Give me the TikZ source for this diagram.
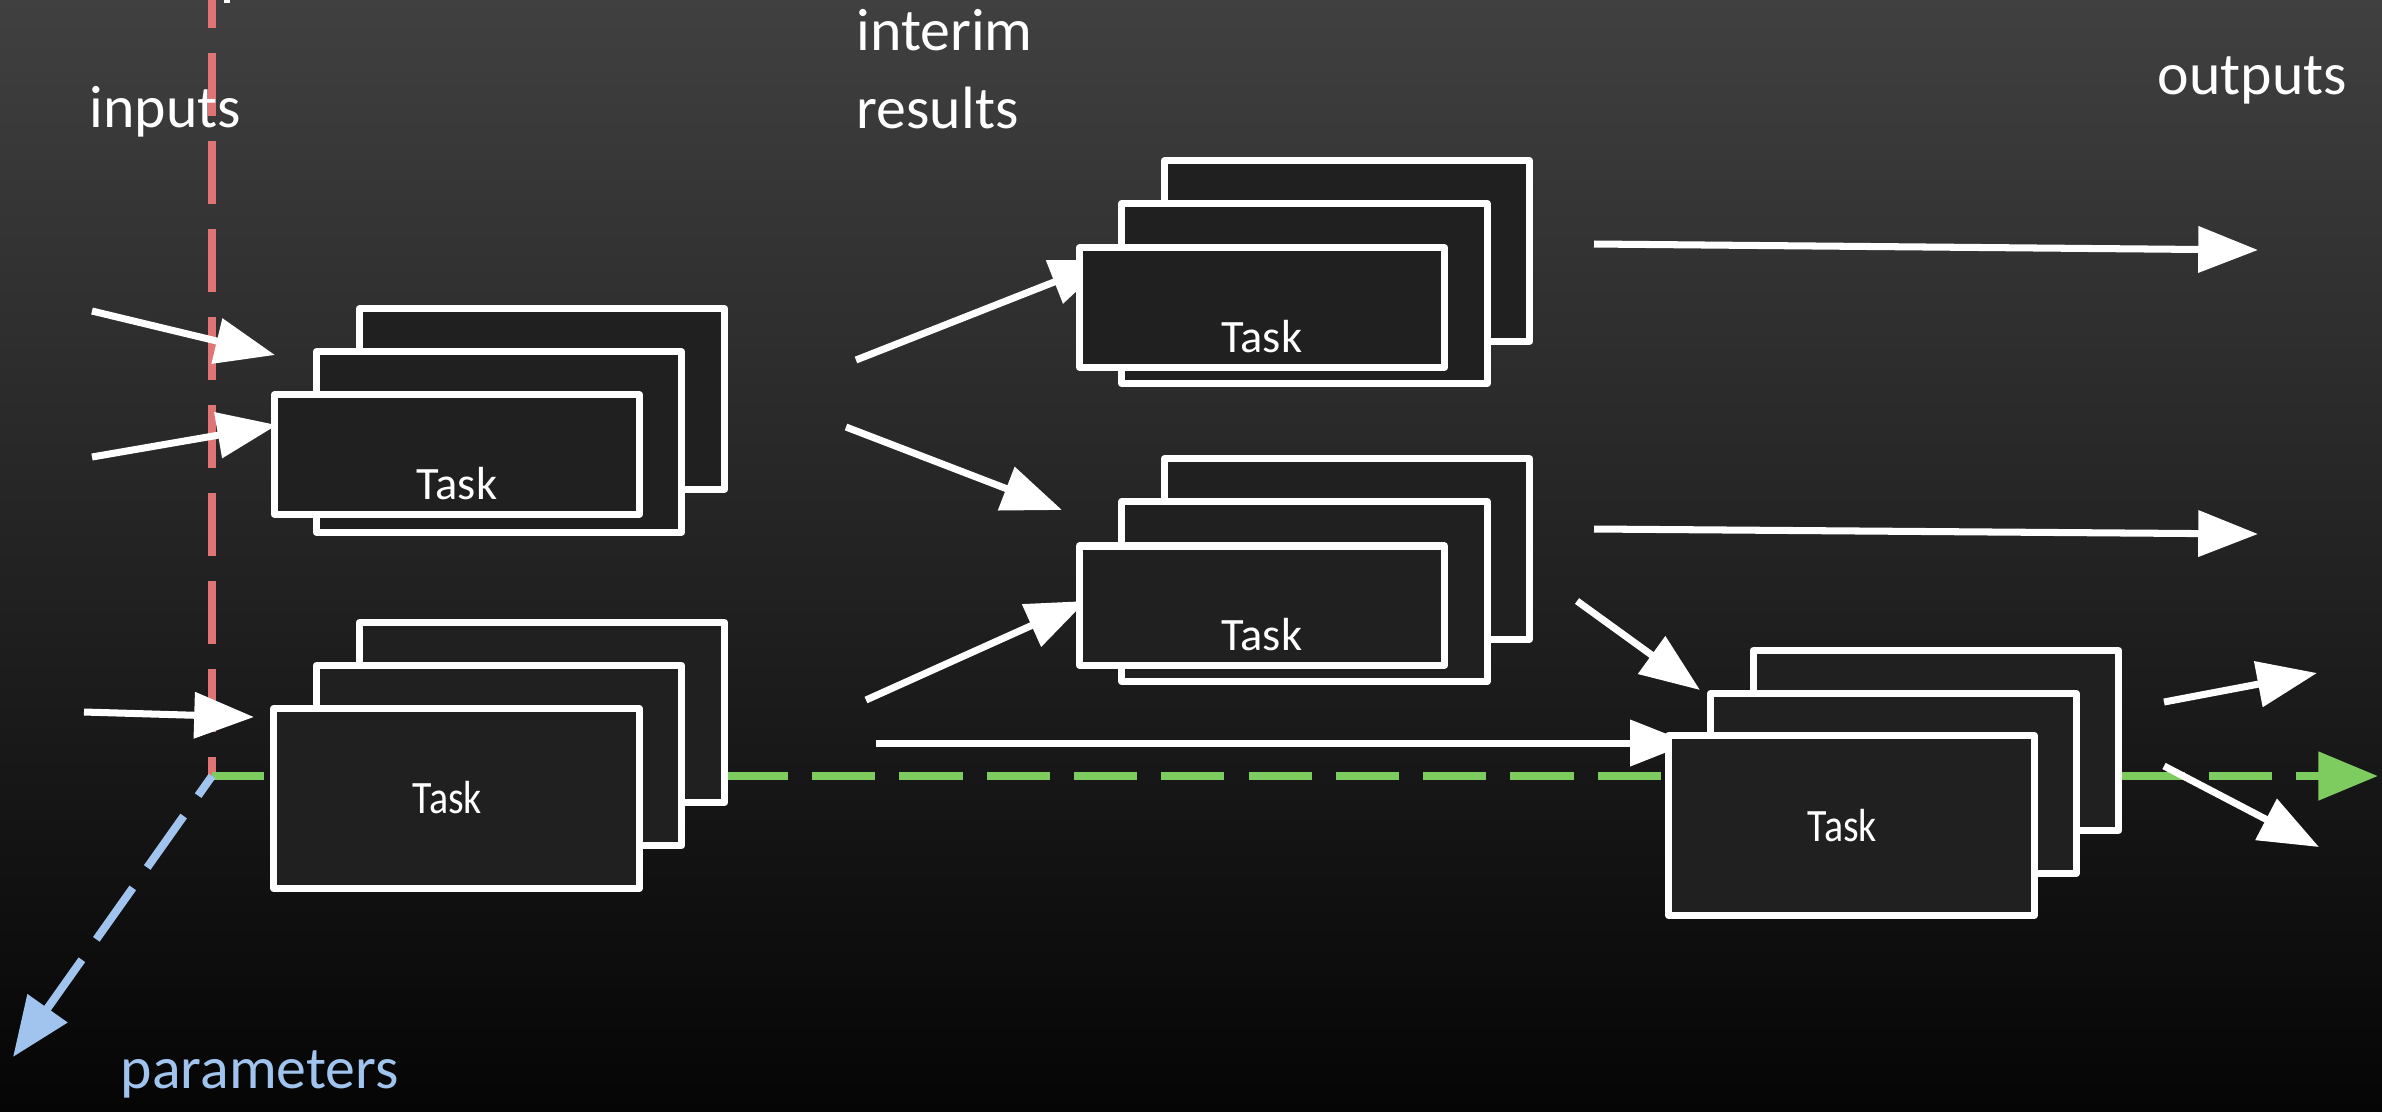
\documentclass[tikz,border=0pt]{standalone}
\usepackage{fontspec}
\setmainfont{Carlito}
\newfontfamily\taskfontc[FakeStretch=0.86]{Carlito}
\usetikzlibrary{arrows.meta,calc}
\definecolor{bgtop}{RGB}{64,64,64}
\definecolor{bgbot}{RGB}{5,5,5}
\definecolor{boxfill}{RGB}{32,32,32}
\definecolor{redline}{RGB}{224,116,116}
\definecolor{greenline}{RGB}{126,204,96}
\definecolor{blueline}{RGB}{160,196,238}
\begin{document}
\begin{tikzpicture}[x=0.01cm,y=-0.01cm,
  layer/.style={draw=white, line width=2pt, fill=boxfill, rectangle, inner sep=0pt, outer sep=0pt,
    minimum width=3.65cm, minimum height=1.8cm, line join=round},
  shortlayer/.style={layer, minimum height=1.19cm},
  flow/.style={draw=white, line width=2pt, -{Triangle[length=17pt,width=12.8pt]}},
  axisline/.style={line width=2.3pt},
  lbl/.style={text=white, font=\fontsize{17}{22}\selectfont, inner sep=0pt, anchor=base west},
  tasklbl/.style={text=white, font=\fontsize{13.2}{16}\selectfont, inner sep=0pt, anchor=base},
  tasklblc/.style={tasklbl, font=\taskfontc\fontsize{13.2}{16}\selectfont}
]
% background
\shade[top color=bgtop, bottom color=bgbot] (0,0) rectangle (2382,1111);
\useasboundingbox (0,0) rectangle (2382,1111);

% axes
\coordinate (origin) at (212,776);
\coordinate (redtop) at (212,0);
\coordinate (greenend) at (2378,776);
\coordinate (paramend) at (13,1057);
\draw[axisline, redline, dash pattern=on 17.93pt off 7.11pt, dash phase=12.52pt] (origin) -- (redtop);
\draw[axisline, greenline, dash pattern=on 17.93pt off 6.89pt, dash phase=3.07pt,
  -{Triangle[length=17pt,width=13.4pt]}] (origin) -- (greenend);
\draw[axisline, blueline, dash pattern=on 17.93pt off 7.11pt, dash phase=11.1pt,
  -{Triangle[length=17pt,width=13.4pt]}] (origin) -- (paramend);

% arrow end points
\coordinate (a1s) at (92,311);   \coordinate (a1e) at (275,355);
\coordinate (a2s) at (92,457);   \coordinate (a2e) at (277,425);
\coordinate (a3s) at (84,712);   \coordinate (a3e) at (254,717);
\coordinate (b1s) at (856,360);  \coordinate (b1e) at (1110,260);
\coordinate (b2s) at (846,427);  \coordinate (b2e) at (1062,510);
\coordinate (b3s) at (866,700);  \coordinate (b3e) at (1086,601);
\coordinate (b4s) at (876,743);  \coordinate (b4e) at (1690,743);
\coordinate (c1s) at (1594,244); \coordinate (c1e) at (2258,250);
\coordinate (c2s) at (1594,529); \coordinate (c2e) at (2258,534);
\coordinate (c3s) at (1577,601); \coordinate (c3e) at (1700,690);
\coordinate (d1s) at (2164,702); \coordinate (d1e) at (2317,673);
\coordinate (d2s) at (2164,766); \coordinate (d2e) at (2319,847);

\draw[flow] (a1s) -- (a1e);
\draw[flow] (a2s) -- (a2e);
\draw[flow] (a3s) -- (a3e);
\draw[flow] (b1s) -- (b1e);
\draw[flow] (b2s) -- (b2e);
\draw[flow] (b3s) -- (b3e);
\draw[flow] (b4s) -- (b4e);
\draw[flow] (c1s) -- (c1e);
\draw[flow] (c2s) -- (c2e);
\draw[flow] (c3s) -- (c3e);
\draw[flow] (d1s) -- (d1e);
\draw[flow] (d2s) -- (d2e);

% stack 1
\node[layer] (s1c) at (542,399) {};
\node[layer] (s1b) at (499,442) {};
\node[shortlayer] (s1a) at (457,454.5) {};
\node[tasklbl] (t1) at ($(s1a.south)+(0,-15)$) {Task};
% stack 2
\node[layer] (s2c) at (1347,251) {};
\node[layer] (s2b) at (1304.5,293.5) {};
\node[shortlayer] (s2a) at (1262,307.5) {};
\node[tasklbl] (t2) at ($(s2a.south)+(0,-15)$) {Task};
% stack 3
\node[layer] (s3c) at (1347,549) {};
\node[layer] (s3b) at (1304.5,591.5) {};
\node[shortlayer] (s3a) at (1262,605.5) {};
\node[tasklbl] (t3) at ($(s3a.south)+(0,-15)$) {Task};
% stack 4
\node[layer] (s4c) at (542,712.5) {};
\node[layer] (s4b) at (499,755.5) {};
\node[layer] (s4a) at (456.5,798.5) {};
\node[tasklblc] (t4) at ($(s4a.center)+(-9,15)$) {Task};
% stack 5
\node[layer] (s5c) at (1936,740.5) {};
\node[layer] (s5b) at (1893.5,783.5) {};
\node[layer] (s5a) at (1851.5,825.5) {};
\node[tasklblc] (t5) at ($(s5a.center)+(-9,16)$) {Task};

% labels
\node[lbl] (inputs) at (89,127) {inputs};
\node[lbl, align=left] (interim) at (856,128) {interim\\results};
\node[lbl] (outputs) at (2157,94) {outputs};
\node[lbl, text=blueline] (params) at (120,1088) {parameters};

% small mark at top edge
\fill[white] (224,0) rectangle (230,2.5);
\end{tikzpicture}
\end{document}
